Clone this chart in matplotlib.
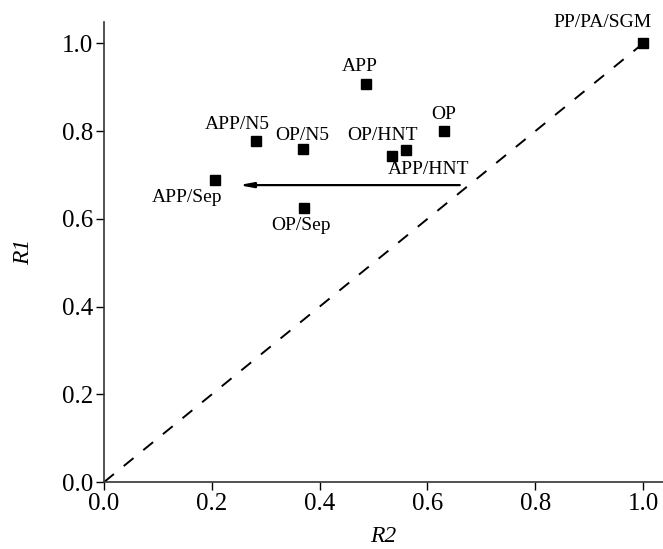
import matplotlib
matplotlib.use("Agg")
import matplotlib.pyplot as plt

# R2 / R1 values
labels = ["PP/PA/SGM", "APP", "OP", "APP/N5", "OP/N5", "OP/HNT", "APP/HNT", "APP/Sep", "OP/Sep"]
r2 = [1.0, 0.486, 0.631, 0.282, 0.369, 0.534, 0.560, 0.206, 0.370]
r1 = [1.0, 0.907, 0.800, 0.778, 0.759, 0.744, 0.756, 0.688, 0.625]

# label offsets in pixels (dx, dy)
offsets = [(-41, 21), (-6, 18), (0, 17), (-19, 16), (-1, 14), (-9, 20), (23, -19), (-28, -17), (-3, -18)]

arrow_start = (0.66, 0.677)
arrow_end = (0.25, 0.677)

plt.rcParams["font.family"] = ["Liberation Serif", "DejaVu Serif"]

fig = plt.figure(figsize=(6.63, 5.49), dpi=100)
ax = fig.add_axes([0.157, 0.122, 0.843, 0.838])

# diagonal reference line
ax.plot([0, 1], [0, 1], color="black", linestyle=(0, (6.5, 6.5)), linewidth=1.4)

ax.plot(r2, r1, "s", color="black", markersize=6.5, linestyle="none")

for lab, x, y, (dx, dy) in zip(labels, r2, r1, offsets):
    ax.annotate(lab, (x, y), xytext=(dx, dy), textcoords="offset pixels",
                ha="center", va="center", fontsize=14)

ax.annotate("", xy=arrow_end, xytext=arrow_start,
            arrowprops=dict(arrowstyle="-|>,head_length=0.8,head_width=0.15",
                            color="black", lw=1.6, shrinkA=0, shrinkB=0))

ax.set_xlim(0, 1.037)
ax.set_ylim(0, 1.049)
ax.set_xticks([0, 0.2, 0.4, 0.6, 0.8, 1.0])
ax.set_yticks([0, 0.2, 0.4, 0.6, 0.8, 1.0])
ax.set_xticklabels(["0.0", "0.2", "0.4", "0.6", "0.8", "1.0"])
ax.set_yticklabels(["0.0", "0.2", "0.4", "0.6", "0.8", "1.0"])
ax.tick_params(labelsize=18, direction="out", length=6, width=1, pad=2)
for s in ["left", "bottom"]:
    ax.spines[s].set_linewidth(1.2)
    ax.spines[s].set_color("#333333")
ax.spines["top"].set_visible(False)
ax.spines["right"].set_visible(False)
ax.set_xlabel("R2", fontsize=17, fontstyle="italic", labelpad=8)
ax.set_ylabel("R1", fontsize=17, fontstyle="italic", labelpad=20)

fig.savefig("out.png", dpi=100)
